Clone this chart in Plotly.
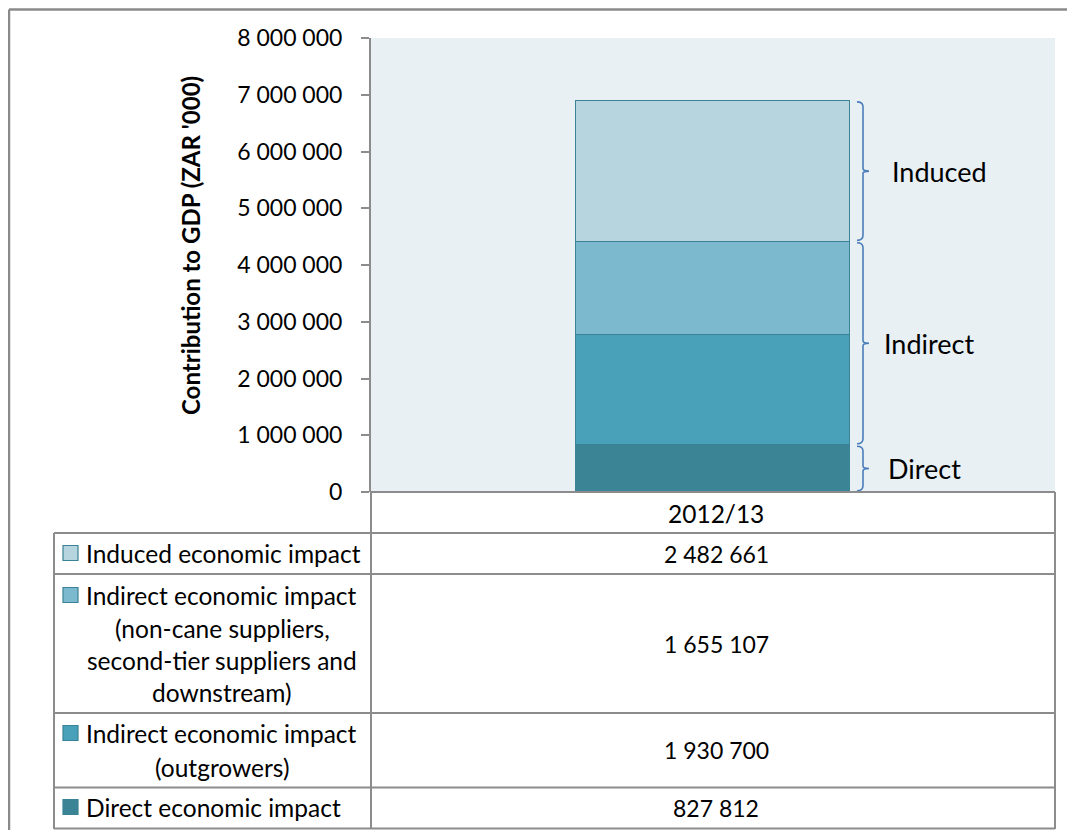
import plotly.graph_objects as go

# ---------------- data ----------------
category = "2012/13"
series_names = [
    "Direct economic impact",
    "Indirect economic impact (outgrowers)",
    "Indirect economic impact (non-cane suppliers, second-tier suppliers and downstream)",
    "Induced economic impact",
]
series_values = [827812, 1930700, 1655107, 2482661]
series_colors = ["#3A8496", "#48A1B9", "#7DB9CE", "#B7D5DF"]
value_text = ["827 812", "1 930 700", "1 655 107", "2 482 661"]
tick_vals = [0, 1000000, 2000000, 3000000, 4000000, 5000000, 6000000, 7000000, 8000000]
tick_text = ["0", "1 000 000", "2 000 000", "3 000 000", "4 000 000",
             "5 000 000", "6 000 000", "7 000 000", "8 000 000"]
brace_labels = ["Direct", "Indirect", "Induced"]
brace_groups = [[0], [1, 2], [3]]

# ---------------- layout constants ----------------
OFF = 8  # page body margin
W, H = 1075 - 2 * OFF, 838 - 2 * OFF
PX_L, PX_R, PX_T, PX_B = 371, 1055, 38, 492
FONT = "Lato, 'Open Sans', sans-serif"
LINE = "#8C8C8C"
BRACE = "#4A7EBB"


def px(x):
    return (x - OFF) / W


def py(y):
    return 1 - (y - OFF) / H


def xdata(p):
    return -0.5 + (p - PX_L) / (PX_R - PX_L)


Y_MAX = 8000000
dpp = Y_MAX / (PX_B - PX_T)

fig = go.Figure()
for name, val, col in zip(series_names, series_values, series_colors):
    fig.add_trace(go.Bar(
        x=[0], y=[val], name=name, width=0.4,
        marker=dict(color=col, line=dict(color="#3A8396", width=1.5)),
        showlegend=False, hoverinfo="y",
    ))

shapes = []
annotations = []


def text(x, y, s, size, xanchor="center", bold=False, angle=0, xref="paper", yref="paper"):
    annotations.append(dict(x=x, y=y, xref=xref, yref=yref,
                            text=f"<b>{s}</b>" if bold else s,
                            showarrow=False, xanchor=xanchor, yanchor="middle",
                            textangle=angle,
                            font=dict(family=FONT, size=size, color="#000")))


def hline(x0, x1, y, color=LINE, width=2):
    shapes.append(dict(type="line", xref="paper", yref="paper", x0=px(x0), x1=px(x1),
                       y0=py(y), y1=py(y), line=dict(color=color, width=width)))


def vline(x, y0, y1, color=LINE, width=2):
    shapes.append(dict(type="line", xref="paper", yref="paper", x0=px(x), x1=px(x),
                       y0=py(y0), y1=py(y1), line=dict(color=color, width=width)))


# outer frame (only top and left edges fall inside the picture)
hline(9, 1075, 9.5, color="#8A8A8A", width=2.5)
vline(9, 9.5, 838, color="#8A8A8A", width=2.5)

# braces (y extents from cumulative data)
cum = [0]
for v in series_values:
    cum.append(cum[-1] + v)
xl, xm, xt = xdata(857), xdata(863), xdata(869)
hook = 5 * dpp
gap = 1.2 * dpp
label_x_px = [886, 882, 890]
for gi, grp in enumerate(brace_groups):
    y0 = cum[grp[0]] + gap
    y1 = cum[grp[-1] + 1] - gap
    ym = (y0 + y1) / 2
    h = min(hook, (y1 - y0) / 4)
    path = (f"M {xl},{y1} Q {xm},{y1} {xm},{y1 - h} "
            f"L {xm},{ym + h / 2} Q {xm},{ym} {xt},{ym} "
            f"Q {xm},{ym} {xm},{ym - h / 2} "
            f"L {xm},{y0 + h} Q {xm},{y0} {xl},{y0}")
    shapes.append(dict(type="path", xref="x", yref="y", path=path,
                       line=dict(color=BRACE, width=1.6)))
    text(xdata(label_x_px[gi]), ym, brace_labels[gi], 27, xanchor="left", xref="x", yref="y")

# ---------------- data table ----------------
row_lines = [533, 574, 713, 787.5, 828.5]

vline(PX_L, PX_B, 829)
vline(PX_R, PX_B, 829)
hline(PX_L, PX_R, PX_B)
vline(54, 533, 829)
for ry in row_lines:
    hline(54, PX_R, ry)

text(px(716), py(513), category, 24.5)

row_order = [3, 2, 1, 0]
row_label_lines = [
    ["Induced economic impact"],
    ["Indirect economic impact", "(non-cane suppliers,", "second-tier suppliers and", "downstream)"],
    ["Indirect economic impact", "(outgrowers)"],
    ["Direct economic impact"],
]
row_line_y = [[553], [595, 628, 660, 692], [733, 767], [807]]
for ri, si in enumerate(row_order):
    top, bot = row_lines[ri], row_lines[ri + 1]
    text(px(716), py((top + bot) / 2), value_text[si], 23)
    lines = row_label_lines[ri]
    for li, (txt, ly) in enumerate(zip(lines, row_line_y[ri])):
        if li == 0:
            text(px(84), py(ly), txt, 24.5, xanchor="left")
        else:
            text(px(222), py(ly), txt, 24.5)
    ky = row_line_y[ri][0]
    shapes.append(dict(type="rect", xref="paper", yref="paper",
                       x0=px(63), x1=px(78), y0=py(ky + 7.5), y1=py(ky - 7.5),
                       fillcolor=series_colors[si], line=dict(color="#3A8396", width=1.2)))

# y-axis title
text(px(191), py(246), "Contribution to GDP (ZAR '000)", 24, bold=True, angle=-90)

fig.update_layout(
    width=W, height=H,
    margin=dict(l=0, r=0, t=0, b=0, autoexpand=False),
    paper_bgcolor="white",
    plot_bgcolor="#E8F0F4",
    barmode="stack",
    bargap=0,
    showlegend=False,
    xaxis=dict(domain=[px(PX_L), px(PX_R)], range=[-0.5, 0.5], showticklabels=False,
               showgrid=False, zeroline=False, ticks="", showline=False, fixedrange=True,
               automargin=False),
    yaxis=dict(domain=[py(PX_B), py(PX_T)], range=[0, Y_MAX], tickvals=tick_vals,
               ticktext=tick_text, ticks="outside", ticklen=8, tickcolor=LINE, tickwidth=1.5,
               showline=True, linecolor=LINE, linewidth=2, showgrid=False, zeroline=False,
               ticklabelstandoff=14, automargin=False,
               tickfont=dict(family=FONT, size=23, color="#000"), fixedrange=True),
    shapes=shapes,
    annotations=annotations,
)

fig.write_html("out.html")
